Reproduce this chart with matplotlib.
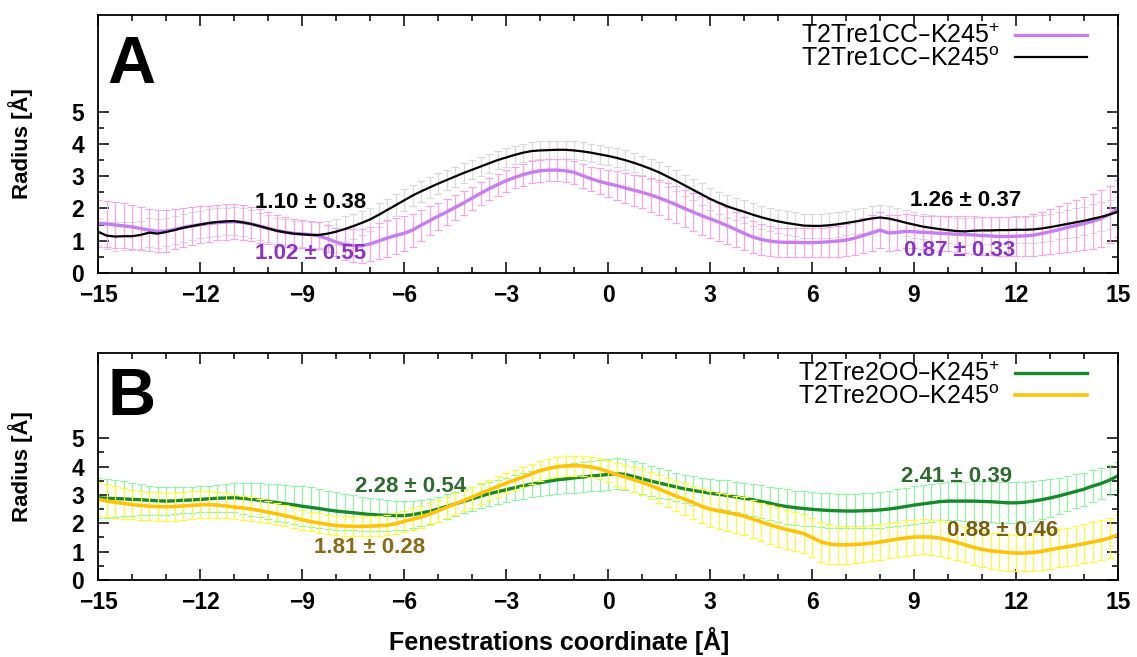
import numpy as np
import matplotlib
matplotlib.use("Agg")
import matplotlib.pyplot as plt
from matplotlib.ticker import MultipleLocator

plt.rcParams['font.family'] = ['Liberation Sans', 'DejaVu Sans']
plt.rcParams['mathtext.default'] = 'regular'

# fenestration coordinate grid (A), 0.25 A steps
coord = np.linspace(-15, 15, 121)

# panel A: T2Tre1CC-K245 (+ = charged, o = neutral)
r_cc_plus = [
    1.54, 1.52, 1.49, 1.46,  1.43, 1.38, 1.33, 1.29,  1.30, 1.35, 1.41, 1.46,  # -15..-13
    1.50, 1.53, 1.56, 1.58,  1.59, 1.57, 1.52, 1.46,  1.39, 1.32, 1.27, 1.23,  # -12..-10
    1.21, 1.19, 1.15, 1.06,  0.96, 0.88, 0.85, 0.84,  0.90, 0.99, 1.08, 1.16,  # -9..-7
    1.23, 1.33, 1.48, 1.62,  1.76, 1.89, 2.03, 2.17,  2.32, 2.47, 2.61, 2.74,  # -6..-4
    2.86, 2.96, 3.05, 3.12,  3.17, 3.19, 3.19, 3.17,  3.12, 3.02, 2.92, 2.84,  # -3..-1
    2.77, 2.71, 2.64, 2.57,  2.50, 2.42, 2.33, 2.23,  2.12, 2.00, 1.89, 1.78,  # 0..2
    1.68, 1.58, 1.47, 1.35,  1.23, 1.12, 1.04, 0.99,  0.96, 0.95, 0.95, 0.94,  # 3..5
    0.94, 0.95, 0.97, 0.99,  1.02, 1.08, 1.16, 1.24,  1.33, 1.24, 1.26, 1.29,  # 6..8
    1.28, 1.26, 1.25, 1.23,  1.22, 1.20, 1.19, 1.18,  1.16, 1.15, 1.13, 1.13,  # 9..11
    1.14, 1.15, 1.17, 1.22,  1.28, 1.34, 1.41, 1.47,  1.53, 1.60, 1.69, 1.82,  # 12..14
    2.00,
]
err_cc_plus = [
    0.72, 0.72, 0.71, 0.70,  0.69, 0.68, 0.66, 0.65,  0.64, 0.62, 0.60, 0.58,
    0.57, 0.56, 0.55, 0.55,  0.55, 0.54, 0.53, 0.52,  0.50, 0.48, 0.46, 0.45,
    0.44, 0.43, 0.42, 0.42,  0.44, 0.47, 0.50, 0.52,  0.54, 0.56, 0.57, 0.56,
    0.54, 0.51, 0.48, 0.45,  0.42, 0.40, 0.38, 0.37,  0.36, 0.35, 0.35, 0.34,
    0.34, 0.34, 0.34, 0.34,  0.34, 0.34, 0.34, 0.35,  0.36, 0.37, 0.38, 0.40,
    0.42, 0.44, 0.46, 0.48,  0.50, 0.52, 0.54, 0.56,  0.57, 0.58, 0.59, 0.60,
    0.60, 0.59, 0.57, 0.55,  0.52, 0.50, 0.48, 0.46,  0.45, 0.45, 0.44, 0.44,
    0.44, 0.45, 0.46, 0.48,  0.50, 0.52, 0.54, 0.55,  0.56, 0.55, 0.54, 0.53,
    0.52, 0.52, 0.53, 0.54,  0.55, 0.56, 0.57, 0.58,  0.59, 0.60, 0.60, 0.61,
    0.62, 0.63, 0.65, 0.67,  0.70, 0.73, 0.76, 0.79,  0.82, 0.85, 0.87, 0.88,
    0.88,
]
r_cc_o = [
    1.28, 1.16, 1.13, 1.14,  1.14, 1.18, 1.25, 1.22,  1.27, 1.33, 1.40, 1.45,
    1.50, 1.55, 1.58, 1.60,  1.61, 1.57, 1.52, 1.45,  1.38, 1.31, 1.26, 1.22,
    1.20, 1.18, 1.18, 1.22,  1.28, 1.36, 1.45, 1.55,  1.66, 1.80, 1.95, 2.10,
    2.25, 2.40, 2.53, 2.65,  2.77, 2.88, 2.99, 3.10,  3.20, 3.30, 3.40, 3.50,
    3.58, 3.66, 3.73, 3.78,  3.80, 3.81, 3.82, 3.82,  3.80, 3.77, 3.73, 3.68,
    3.63, 3.57, 3.50, 3.42,  3.33, 3.23, 3.12, 2.99,  2.86, 2.72, 2.58, 2.44,
    2.30, 2.18, 2.07, 1.98,  1.90, 1.81, 1.73, 1.66,  1.60, 1.55, 1.51, 1.47,
    1.46, 1.46, 1.48, 1.51,  1.55, 1.59, 1.64, 1.69,  1.72, 1.69, 1.63, 1.56,
    1.50, 1.44, 1.40, 1.36,  1.33, 1.30, 1.29, 1.31,  1.32, 1.32, 1.33, 1.33,
    1.34, 1.34, 1.35, 1.38,  1.42, 1.47, 1.52, 1.57,  1.62, 1.68, 1.74, 1.81,
    1.90,
]
err_cc_o = [
    0.42, 0.43, 0.44, 0.44,  0.44, 0.44, 0.44, 0.44,  0.43, 0.43, 0.43, 0.43,
    0.43, 0.43, 0.43, 0.43,  0.43, 0.43, 0.42, 0.42,  0.42, 0.41, 0.40, 0.40,
    0.40, 0.40, 0.40, 0.40,  0.40, 0.40, 0.39, 0.38,  0.37, 0.36, 0.35, 0.34,
    0.34, 0.33, 0.33, 0.32,  0.32, 0.31, 0.31, 0.30,  0.30, 0.30, 0.29, 0.29,
    0.29, 0.28, 0.28, 0.28,  0.28, 0.28, 0.28, 0.28,  0.28, 0.28, 0.28, 0.29,
    0.29, 0.29, 0.30, 0.30,  0.30, 0.31, 0.31, 0.32,  0.32, 0.33, 0.33, 0.34,
    0.34, 0.34, 0.35, 0.35,  0.35, 0.35, 0.36, 0.36,  0.36, 0.36, 0.37, 0.37,
    0.37, 0.37, 0.38, 0.38,  0.38, 0.39, 0.39, 0.40,  0.40, 0.40, 0.40, 0.40,
    0.40, 0.40, 0.41, 0.41,  0.41, 0.41, 0.41, 0.41,  0.41, 0.41, 0.41, 0.41,
    0.41, 0.41, 0.42, 0.42,  0.42, 0.43, 0.43, 0.44,  0.44, 0.45, 0.45, 0.46,
    0.46,
]

# panel B: T2Tre2OO-K245
r_oo_plus = [
    2.90, 2.88, 2.87, 2.86,  2.84, 2.83, 2.81, 2.79,  2.78, 2.79, 2.81, 2.82,
    2.84, 2.86, 2.88, 2.89,  2.90, 2.88, 2.85, 2.81,  2.77, 2.73, 2.69, 2.65,
    2.60, 2.56, 2.52, 2.47,  2.43, 2.40, 2.37, 2.34,  2.31, 2.29, 2.28, 2.27,
    2.27, 2.30, 2.36, 2.42,  2.50, 2.59, 2.68, 2.77,  2.86, 2.95, 3.04, 3.11,
    3.18, 3.25, 3.32, 3.38,  3.43, 3.48, 3.53, 3.56,  3.60, 3.63, 3.66, 3.69,
    3.72, 3.75, 3.72, 3.65,  3.57, 3.49, 3.42, 3.35,  3.28, 3.21, 3.16, 3.11,
    3.06, 3.02, 2.98, 2.93,  2.88, 2.83, 2.77, 2.71,  2.64, 2.59, 2.55, 2.52,
    2.49, 2.47, 2.45, 2.44,  2.43, 2.43, 2.44, 2.45,  2.47, 2.50, 2.54, 2.59,
    2.64, 2.68, 2.72, 2.76,  2.78, 2.78, 2.78, 2.78,  2.77, 2.76, 2.74, 2.72,
    2.72, 2.74, 2.78, 2.83,  2.89, 2.96, 3.04, 3.12,  3.20, 3.31, 3.40, 3.52,
    3.67,
]
err_oo_plus = [
    0.70, 0.68, 0.65, 0.62,  0.58, 0.55, 0.52, 0.50,  0.48, 0.47, 0.46, 0.46,
    0.46, 0.47, 0.48, 0.50,  0.52, 0.55, 0.58, 0.60,  0.62, 0.64, 0.66, 0.68,
    0.70, 0.70, 0.69, 0.68,  0.66, 0.64, 0.62, 0.60,  0.58, 0.56, 0.54, 0.52,
    0.50, 0.48, 0.46, 0.45,  0.44, 0.43, 0.42, 0.42,  0.42, 0.42, 0.42, 0.43,
    0.43, 0.44, 0.45, 0.46,  0.47, 0.48, 0.50, 0.51,  0.52, 0.53, 0.54, 0.55,
    0.56, 0.56, 0.56, 0.55,  0.54, 0.53, 0.52, 0.51,  0.50, 0.50, 0.50, 0.50,
    0.51, 0.52, 0.53, 0.54,  0.55, 0.56, 0.57, 0.58,  0.59, 0.60, 0.60, 0.60,
    0.60, 0.60, 0.60, 0.60,  0.60, 0.60, 0.61, 0.62,  0.63, 0.64, 0.65, 0.66,
    0.66, 0.66, 0.66, 0.66,  0.67, 0.68, 0.69, 0.70,  0.71, 0.72, 0.72, 0.72,
    0.72, 0.71, 0.70, 0.68,  0.66, 0.64, 0.62, 0.60,  0.58, 0.56, 0.54, 0.52,
    0.50,
]
r_oo_o = [
    2.84, 2.79, 2.74, 2.70,  2.66, 2.63, 2.60, 2.59,  2.58, 2.59, 2.61, 2.63,
    2.65, 2.66, 2.64, 2.61,  2.57, 2.54, 2.50, 2.45,  2.39, 2.33, 2.27, 2.20,
    2.12, 2.06, 2.01, 1.96,  1.92, 1.90, 1.89, 1.89,  1.90, 1.91, 1.93, 1.98,
    2.07, 2.14, 2.22, 2.32,  2.44, 2.56, 2.68, 2.80,  2.92, 3.05, 3.17, 3.29,
    3.41, 3.52, 3.63, 3.74,  3.85, 3.93, 3.99, 4.02,  4.03, 4.02, 3.98, 3.92,
    3.82, 3.72, 3.63, 3.54,  3.44, 3.33, 3.21, 3.08,  2.96, 2.85, 2.73, 2.60,
    2.50, 2.44, 2.38, 2.32,  2.25, 2.15, 2.05, 1.95,  1.86, 1.78, 1.71, 1.64,
    1.50, 1.35, 1.27, 1.24,  1.24, 1.25, 1.27, 1.30,  1.34, 1.39, 1.44, 1.48,
    1.51, 1.52, 1.51, 1.48,  1.41, 1.33, 1.24, 1.15,  1.08, 1.03, 1.00, 0.97,
    0.95, 0.95, 0.97, 1.01,  1.07, 1.12, 1.17, 1.22,  1.28, 1.34, 1.40, 1.48,
    1.60,
]
err_oo_o = [
    0.60, 0.58, 0.56, 0.54,  0.52, 0.51, 0.50, 0.50,  0.50, 0.50, 0.50, 0.49,
    0.48, 0.46, 0.45, 0.44,  0.43, 0.42, 0.41, 0.40,  0.39, 0.38, 0.37, 0.36,
    0.35, 0.34, 0.34, 0.34,  0.34, 0.34, 0.34, 0.35,  0.35, 0.36, 0.36, 0.37,
    0.37, 0.38, 0.38, 0.38,  0.38, 0.38, 0.38, 0.37,  0.37, 0.37, 0.36, 0.36,
    0.36, 0.36, 0.35, 0.35,  0.35, 0.35, 0.35, 0.35,  0.35, 0.35, 0.36, 0.37,
    0.38, 0.40, 0.42, 0.44,  0.46, 0.48, 0.50, 0.52,  0.54, 0.56, 0.58, 0.60,
    0.62, 0.63, 0.64, 0.65,  0.66, 0.67, 0.68, 0.69,  0.70, 0.70, 0.70, 0.70,
    0.70, 0.70, 0.69, 0.68,  0.67, 0.66, 0.65, 0.64,  0.63, 0.63, 0.62, 0.62,
    0.62, 0.62, 0.62, 0.62,  0.62, 0.62, 0.62, 0.62,  0.63, 0.63, 0.64, 0.64,
    0.65, 0.65, 0.66, 0.66,  0.67, 0.67, 0.68, 0.68,  0.69, 0.69, 0.70, 0.70,
    0.70,
]

fig = plt.figure(figsize=(11.37, 6.57), dpi=100)
axA = fig.add_axes([0.0862, 0.5845, 0.8971, 0.3927])
axB = fig.add_axes([0.0862, 0.1172, 0.8971, 0.3455])


def errband(ax, y, err, ecol):
    ax.errorbar(coord, y, yerr=err, fmt='none', ecolor=ecol, elinewidth=0.9,
                capsize=3, capthick=0.9)


def style(ax):
    ax.set_xlim(-15, 15)
    ax.set_ylim(0, 8)
    ax.set_xticks(range(-15, 16, 3))
    ax.xaxis.set_minor_locator(MultipleLocator(1))
    ax.set_yticks(range(0, 6))
    ax.set_yticks(np.arange(0.5, 5, 1.0), minor=True)
    ax.tick_params(which='both', direction='in', top=True, right=True,
                   labelsize=16.5, width=1.1)
    ax.tick_params(which='major', length=8)
    ax.tick_params(which='minor', length=4.5)
    ax.tick_params(axis='x', pad=8)
    ax.tick_params(axis='y', pad=10)
    for lab in ax.get_xticklabels() + ax.get_yticklabels():
        lab.set_fontweight('bold')
    for sp in ax.spines.values():
        sp.set_linewidth(1.3)
    ax.set_ylabel('Radius [Å]', fontsize=16, fontweight='bold')
    ax.yaxis.set_label_coords(-0.064, 0.5)


# ---- panel A ----
errband(axA, r_cc_o, err_cc_o, '#d9d9d9')
errband(axA, r_cc_plus, err_cc_plus, '#f4a6e6')
lp, = axA.plot(coord, r_cc_plus, color='#c77cf2', lw=2.4)
lo, = axA.plot(coord, r_cc_o, color='black', lw=1.6)
style(axA)
axA.legend([lp, lo], ['T2Tre1CC–K245$^{+}$', 'T2Tre1CC–K245$^{o}$'],
           loc='upper right', bbox_to_anchor=(0.97, 0.965), frameon=False,
           markerfirst=False, fontsize=18, handlelength=2.9, handletextpad=0.6,
           labelspacing=-0.05, borderpad=0, borderaxespad=0)
axA.text(0.009, 0.736, 'A', transform=axA.transAxes, fontsize=48,
         fontweight='bold', va='baseline')
axA.text(-8.74, 2.17, '1.10 ± 0.38', fontsize=16, fontweight='bold',
         color='black', ha='center', va='center')
axA.text(-8.74, 0.59, '1.02 ± 0.55', fontsize=16, fontweight='bold',
         color='#8b33c4', ha='center', va='center')
axA.text(10.53, 2.26, '1.26 ± 0.37', fontsize=16, fontweight='bold',
         color='black', ha='center', va='center')
axA.text(10.35, 0.71, '0.87 ± 0.33', fontsize=16, fontweight='bold',
         color='#8b33c4', ha='center', va='center')

# ---- panel B ----
errband(axB, r_oo_plus, err_oo_plus, '#93f0a6')
gp, = axB.plot(coord, r_oo_plus, color='#168a2b', lw=2.4)
errband(axB, r_oo_o, err_oo_o, '#fbfb3a')
yp, = axB.plot(coord, r_oo_o, color='#ffc20a', lw=2.6)
style(axB)
axB.legend([gp, yp], ['T2Tre2OO–K245$^{+}$', 'T2Tre2OO–K245$^{o}$'],
           loc='upper right', bbox_to_anchor=(0.97, 0.96), frameon=False,
           markerfirst=False, fontsize=18, handlelength=2.9, handletextpad=0.6,
           labelspacing=-0.05, borderpad=0, borderaxespad=0)
axB.text(0.009, 0.727, 'B', transform=axB.transAxes, fontsize=48,
         fontweight='bold', va='baseline')
axB.text(-5.82, 3.30, '2.28 ± 0.54', fontsize=16, fontweight='bold',
         color='#2e6b2e', ha='center', va='center')
axB.text(-7.0, 1.14, '1.81 ± 0.28', fontsize=16, fontweight='bold',
         color='#8c6a14', ha='center', va='center')
axB.text(10.26, 3.66, '2.41 ± 0.39', fontsize=16, fontweight='bold',
         color='#2e6b2e', ha='center', va='center')
axB.text(11.59, 1.74, '0.88 ± 0.46', fontsize=16, fontweight='bold',
         color='#7a5c12', ha='center', va='center')
axB.set_xlabel('Fenestrations coordinate [Å]', fontsize=18, fontweight='bold')
axB.xaxis.set_label_coords(0.452, -0.205)

fig.savefig('out.png', dpi=100)
